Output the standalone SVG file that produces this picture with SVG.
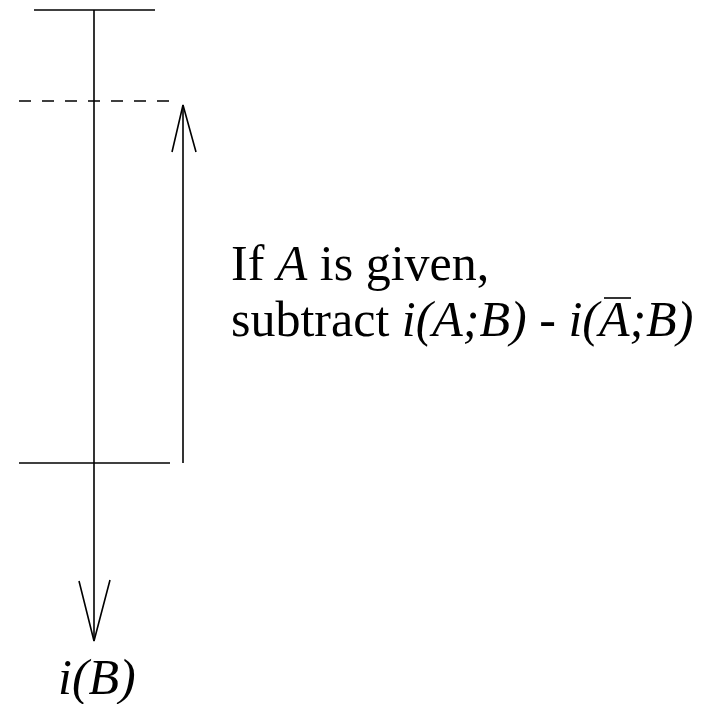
<svg xmlns="http://www.w3.org/2000/svg" width="705" height="704" viewBox="0 0 705 704">
<style>
.ln{stroke:#000;stroke-width:1.6;fill:none}
.t{font-family:"Liberation Serif","Times New Roman",serif;font-size:50px;fill:#000}
.i{font-style:italic}
</style>
<rect width="705" height="704" fill="#fff"/>
<g id="connectors">
<line class="ln" x1="34" y1="10" x2="155" y2="10"/>
<line class="ln" x1="19" y1="101" x2="172" y2="101" stroke-dasharray="12,11"/>
<line class="ln" x1="19" y1="463" x2="170" y2="463"/>
<line class="ln" x1="94" y1="10" x2="94" y2="641"/>
<polyline class="ln" points="79,581 94,641 110,580"/>
<line class="ln" x1="183" y1="463" x2="183" y2="105"/>
<polyline class="ln" points="172,152 183,105 196,152"/>
</g>
<g id="label-main">
<text class="t" x="231" y="280">If <tspan class="i">A</tspan> is given,</text>
<text class="t" x="231" y="336">subtract <tspan class="i">i(A;B)</tspan> - <tspan class="i">i(A;B)</tspan></text>
<line x1="604" y1="298" x2="631" y2="298" stroke="#000" stroke-width="1.6"/>
</g>
<g id="label-iB">
<text class="t i" x="58" y="694">i(B)</text>
</g>
</svg>
